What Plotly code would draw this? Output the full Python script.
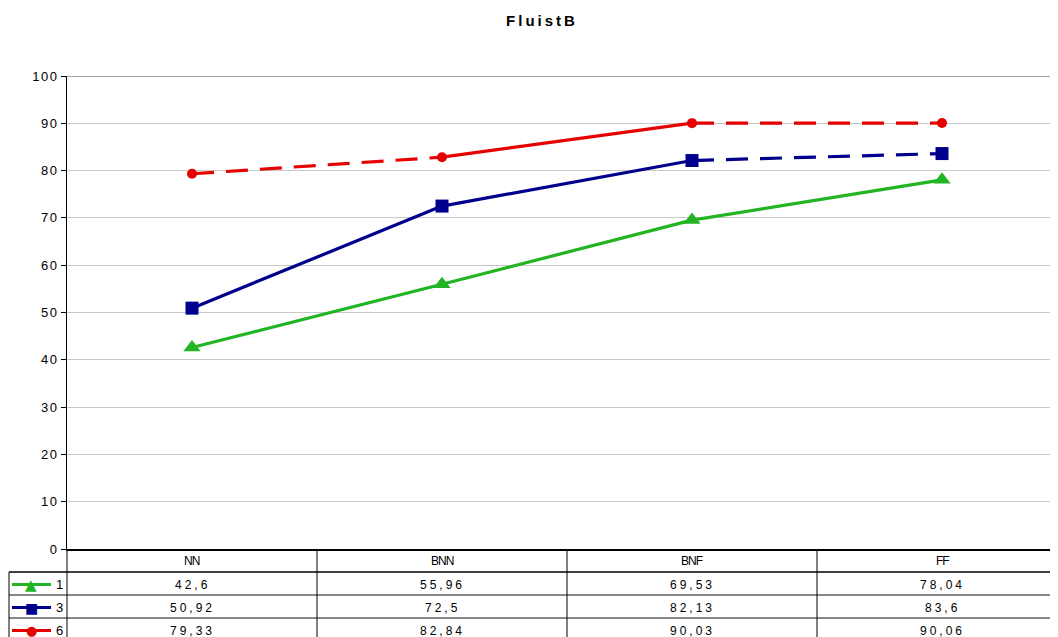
import plotly.graph_objects as go

categories = ["NN", "BNN", "BNF", "FF"]
series_names = ["1", "3", "6"]
values_1 = [42.6, 55.96, 69.53, 78.04]
values_3 = [50.92, 72.5, 82.13, 83.6]
values_6 = [79.33, 82.84, 90.03, 90.06]
y_ticks = [0, 10, 20, 30, 40, 50, 60, 70, 80, 90, 100]

OFF = 8  # page body margin
W, H = 1058 - OFF, 637 - OFF
L, R, T, B = 67 - OFF, 0, 76 - OFF, 88
PW, PH = W - L - R, H - T - B

series = [
    dict(name=series_names[0], y=values_1, color="#22b422", symbol="triangle-up", size=15,
         glyph="▲", gsize=15, dashes=["solid", "solid", "solid"]),
    dict(name=series_names[1], y=values_3, color="#00008c", symbol="square", size=13,
         glyph="■", gsize=14, dashes=["solid", "solid", "22px,12px"]),
    dict(name=series_names[2], y=values_6, color="#e60000", symbol="circle", size=10,
         glyph="●", gsize=13, dashes=["22px,12px", "solid", "22px,12px"]),
]


def py(pix):
    # screen pixel row -> paper y
    return ((H - B) - (pix - OFF)) / PH


def px_(pix):
    # screen pixel column -> paper x
    return (pix - OFF - L) / PW


def spaced(t, sp):
    return f'<span style="letter-spacing:{sp}px">{t}</span>'


fig = go.Figure()

for s in series:
    for i, d in enumerate(s["dashes"]):
        fig.add_trace(go.Scatter(
            x=categories[i:i + 2], y=s["y"][i:i + 2], mode="lines",
            line=dict(color=s["color"], width=3.2, dash=d),
            showlegend=False, hoverinfo="skip",
        ))
for s in series:
    fig.add_trace(go.Scatter(
        x=categories, y=s["y"], mode="markers", name=s["name"],
        marker=dict(color=s["color"], symbol=s["symbol"], size=s["size"]),
        showlegend=False,
    ))

shapes = []
annotations = []
font = dict(family="Liberation Sans, Arial", size=12, color="#000000")

# table rows: header then one row per series
row_edges = [549, 572, 595, 618, 641]
shapes.append(dict(type="line", xref="paper", yref="paper", x0=px_(9), x1=1,
                   y0=py(572), y1=py(572), line=dict(color="#000000", width=1.5)))
for yy in row_edges[2:]:
    shapes.append(dict(type="line", xref="paper", yref="paper", x0=px_(9), x1=1,
                       y0=py(yy), y1=py(yy), line=dict(color="#606060", width=1.5)))
for xb in [0.5, 1.5, 2.5]:
    shapes.append(dict(type="line", xref="x", yref="paper", x0=xb, x1=xb,
                       y0=0, y1=py(650), line=dict(color="#000000", width=1)))
shapes.append(dict(type="line", xref="paper", yref="paper", x0=0, x1=0,
                   y0=0, y1=py(650), line=dict(color="#000000", width=1)))
shapes.append(dict(type="line", xref="paper", yref="paper", x0=px_(9), x1=px_(9),
                   y0=py(572), y1=py(650), line=dict(color="#000000", width=1)))

for c in categories:
    annotations.append(dict(x=c, xref="x", y=py(561), yref="paper", text=spaced(c, -1),
                            showarrow=False, xanchor="center", yanchor="middle",
                            font=dict(family="Liberation Sans, Arial", size=12, color="#000000")))

for r, s in enumerate(series):
    cy = (row_edges[r + 1] + row_edges[r + 2]) / 2 + 1
    for c, v in zip(categories, s["y"]):
        annotations.append(dict(x=c, xref="x", y=py(cy), yref="paper",
                                text=spaced(f"{v:g}".replace(".", ","), 3), showarrow=False,
                                xanchor="center", yanchor="middle", font=font))
    # legend key
    shapes.append(dict(type="line", xref="paper", yref="paper", x0=px_(12), x1=px_(51),
                       y0=py(cy), y1=py(cy), line=dict(color=s["color"], width=3)))
    annotations.append(dict(x=px_(31), xref="paper", y=py(cy), yref="paper",
                            text=s["glyph"], showarrow=False, xanchor="center", yanchor="middle",
                            font=dict(family="DejaVu Sans", size=s["gsize"], color=s["color"])))
    annotations.append(dict(x=px_(54), xref="paper", y=py(cy), yref="paper",
                            text=s["name"], showarrow=False, xanchor="left", yanchor="middle",
                            font=dict(family="Liberation Sans, Arial", size=13, color="#000000")))

fig.update_layout(
    width=W, height=H,
    margin=dict(l=L, r=R, t=T, b=B),
    paper_bgcolor="white", plot_bgcolor="white",
    title=dict(text=spaced("<b>FluistB</b>", 3), x=(542 - OFF) / W, xref="container",
               xanchor="center", y=1 - (21 - OFF) / H, yanchor="middle",
               font=dict(family="Liberation Sans, Arial", size=15, color="#000000")),
    xaxis=dict(type="category", range=[-0.5, -0.5 + PW / 250], showticklabels=False,
               showgrid=False, zeroline=False, showline=True, linecolor="#000000",
               linewidth=2, ticks=""),
    yaxis=dict(range=[0, 100], tickvals=y_ticks, ticktext=[spaced(t, 1.5) for t in y_ticks],
               ticks="outside", ticklen=5,
               tickcolor="#000000", showline=True, linecolor="#000000", linewidth=1,
               gridcolor="#c8c8c8", gridwidth=1, zeroline=False,
               tickfont=dict(family="Liberation Sans, Arial", size=13, color="#000000")),
    shapes=shapes,
    annotations=annotations,
    showlegend=False,
)
fig.add_shape(type="line", xref="paper", yref="y", x0=0, x1=1, y0=100, y1=100,
              line=dict(color="#888888", width=1.5), layer="below")

fig.write_html("out.html")
